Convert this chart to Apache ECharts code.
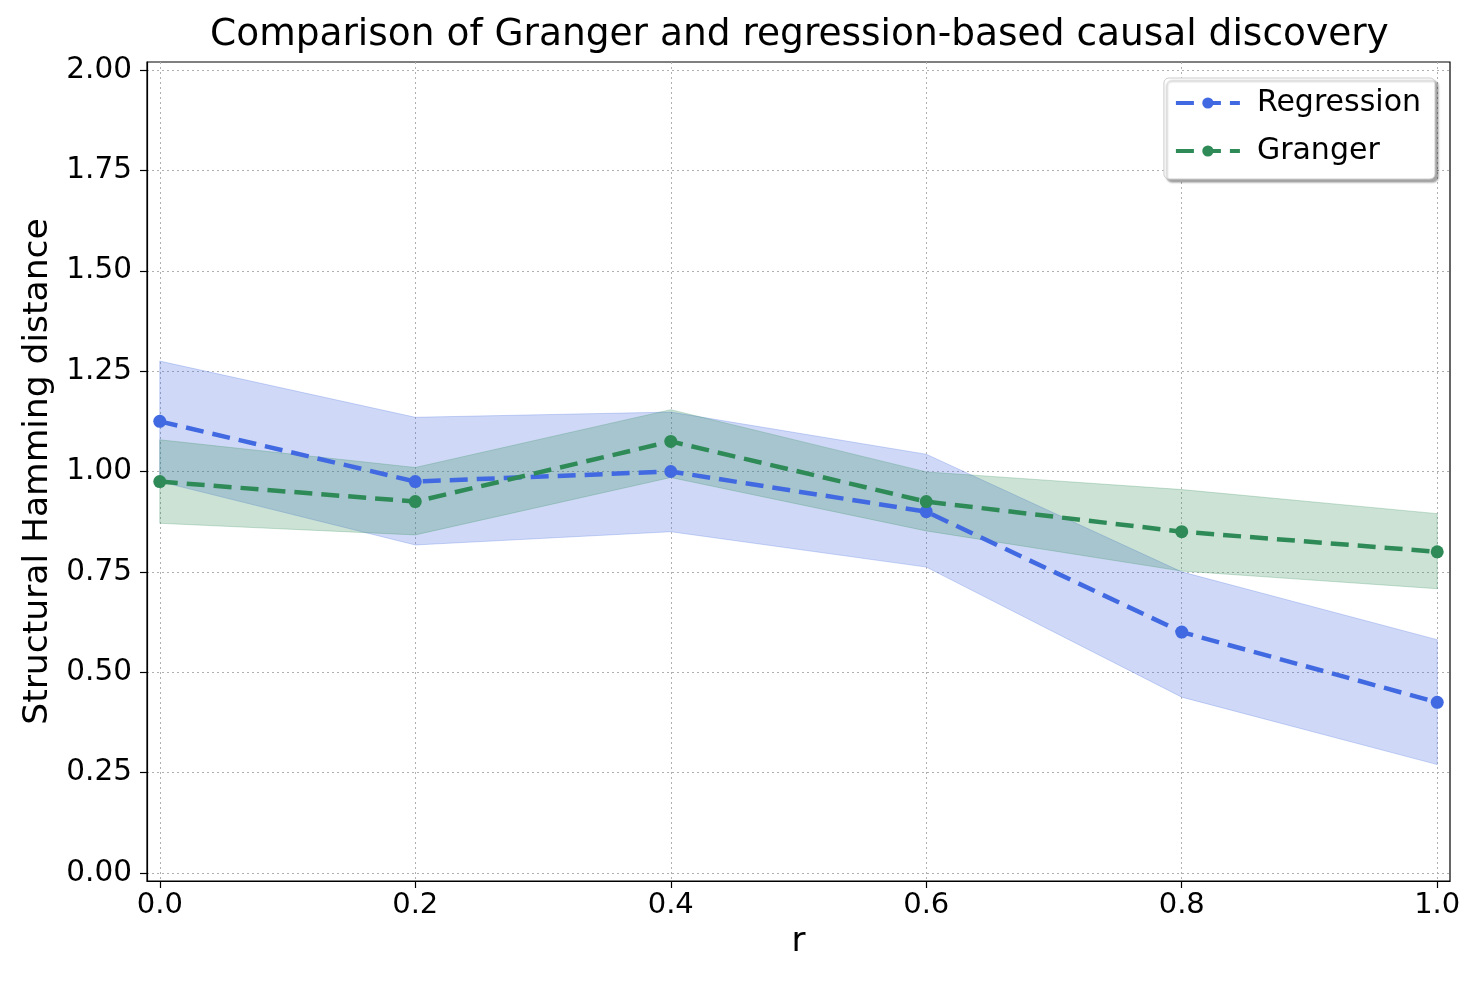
<!DOCTYPE html>
<html>
<head>
<meta charset="utf-8">
<script src="https://cdn.jsdelivr.net/npm/echarts@6/dist/echarts.min.js"></script>
<style>html,body{margin:0;padding:0;background:#fff}#c{width:1476px;height:983px}</style>
</head>
<body>
<div id="c"></div>
<script>
const rValues = [0.0, 0.2, 0.4, 0.6, 0.8, 1.0];
const regressionMean = [1.125, 0.975, 1.0, 0.9, 0.6, 0.425];
const regressionUpper = [1.275, 1.135, 1.148, 1.043, 0.75, 0.581];
const regressionLower = [0.975, 0.817, 0.85, 0.762, 0.438, 0.27];
const grangerMean = [0.975, 0.925, 1.075, 0.925, 0.85, 0.8];
const grangerUpper = [1.079, 1.01, 1.154, 0.999, 0.955, 0.895];
const grangerLower = [0.871, 0.842, 0.985, 0.852, 0.752, 0.708];
const xTicks = [0.0, 0.2, 0.4, 0.6, 0.8, 1.0];
const yTicks = [0, 0.25, 0.5, 0.75, 1.0, 1.25, 1.5, 1.75, 2.0];

const FONT = 'DejaVu Sans';
const BLUE = '#4169E1';
const GREEN = '#2E8B57';

const pairs = (ys) => rValues.map((x, i) => [x, ys[i]]);
const bandRows = (lo, up) => rValues.map((x, i) => [x, lo[i], up[i]]);

function bandSeries(name, lo, up, fill) {
  return {
    name: name, type: 'custom', silent: true, z: 1,
    data: bandRows(lo, up),
    encode: {x: 0, y: [1, 2]},
    renderItem: function (params, api) {
      if (params.dataIndex !== 0) return null;
      const pts = [];
      for (let i = 0; i < rValues.length; i++) pts.push(api.coord([rValues[i], up[i]]));
      for (let i = rValues.length - 1; i >= 0; i--) pts.push(api.coord([rValues[i], lo[i]]));
      return {type: 'polygon', shape: {points: pts}, style: {fill: fill, stroke: fill, lineWidth: 1}};
    }
  };
}

const chart = echarts.init(document.getElementById('c'), null, {renderer: 'canvas'});
chart.setOption({
  animation: false,
  backgroundColor: '#fff',
  title: {
    text: 'Comparison of Granger and regression-based causal discovery',
    left: 205, top: 11,
    textStyle: {fontFamily: FONT, fontSize: 37.5, fontWeight: 'normal', color: '#000'}
  },
  legend: {
    data: ['Regression', 'Granger'],
    right: 41, top: 78,
    orient: 'vertical',
    itemWidth: 64, itemHeight: 14, itemGap: 18,
    padding: [10, 14, 13, 10],
    backgroundColor: '#fff',
    borderColor: '#cccccc', borderWidth: 1, borderRadius: 5,
    shadowColor: 'rgba(0,0,0,0.35)', shadowBlur: 2, shadowOffsetX: 3, shadowOffsetY: 3,
    lineStyle: {width: 4},
    textStyle: {fontFamily: FONT, fontSize: 30, color: '#000', padding: [0, 0, 0, 12]}
  },
  grid: {left: 147, right: 26, top: 62, bottom: 102, show: true, borderColor: '#000', borderWidth: 1.2, backgroundColor: 'transparent'},
  xAxis: {
    type: 'value', min: -0.01, max: 1.01,
    name: 'r', nameLocation: 'middle', nameGap: 43,
    nameTextStyle: {fontFamily: FONT, fontSize: 34, color: '#000'},
    axisLine: {show: true, onZero: false, lineStyle: {color: '#000', width: 1.2}},
    axisTick: {show: true, length: 7, lineStyle: {color: '#000', width: 1.2}, customValues: xTicks},
    axisLabel: {fontFamily: FONT, fontSize: 29, color: '#000', margin: 10, customValues: xTicks,
      formatter: v => v.toFixed(1)},
    splitLine: {show: true, lineStyle: {color: '#b0b0b0', type: [2, 3], width: 1}}
  },
  yAxis: {
    type: 'value', min: -0.02, max: 2.02,
    name: 'Structural Hamming distance', nameLocation: 'middle', nameGap: 90, nameRotate: 90,
    nameTextStyle: {fontFamily: FONT, fontSize: 34.5, color: '#000'},
    axisLine: {show: true, onZero: false, lineStyle: {color: '#000', width: 1.2}},
    axisTick: {show: true, length: 7, lineStyle: {color: '#000', width: 1.2}, customValues: yTicks},
    axisLabel: {fontFamily: FONT, fontSize: 29.5, color: '#000', margin: 15, customValues: yTicks,
      formatter: v => v.toFixed(2)},
    splitLine: {show: true, lineStyle: {color: '#b0b0b0', type: [2, 3], width: 1}}
  },
  series: [
    bandSeries('regBand', regressionLower, regressionUpper, 'rgba(65,105,225,0.25)'),
    bandSeries('grBand', grangerLower, grangerUpper, 'rgba(46,139,87,0.25)'),
    {name: 'Regression', type: 'line', data: pairs(regressionMean), symbol: 'circle', symbolSize: 13,
      itemStyle: {color: BLUE}, lineStyle: {color: BLUE, width: 4.5, type: [18, 9]}, z: 3},
    {name: 'Granger', type: 'line', data: pairs(grangerMean), symbol: 'circle', symbolSize: 13,
      itemStyle: {color: GREEN}, lineStyle: {color: GREEN, width: 4.5, type: [18, 9]}, z: 4}
  ]
});
</script>
</body>
</html>
